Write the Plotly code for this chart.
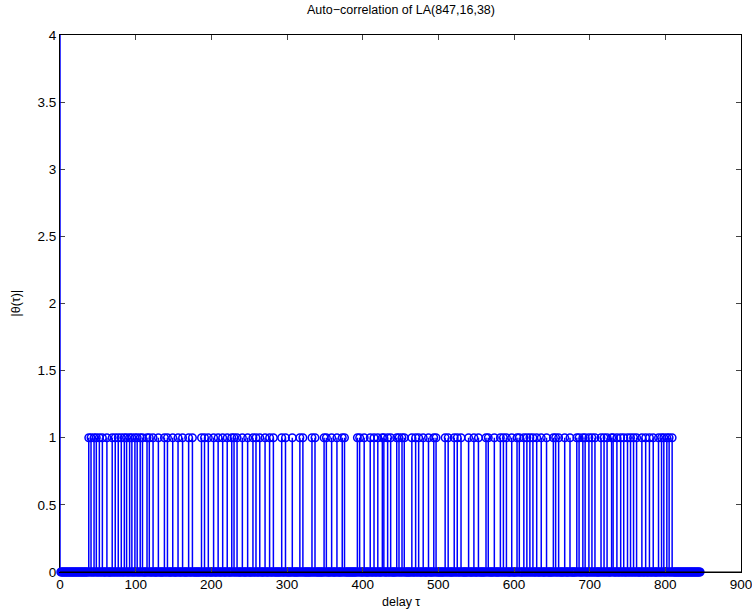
import plotly.graph_objects as go

# ---- data ----
n_delays = 847                      # delays 0 .. 846
peak_delay = 0
peak_value = 16                     # |theta(0)| (off the visible range)
unit_delays = [
    38, 41, 45, 48, 52, 56, 62, 69, 73, 77, 81, 85, 88, 92, 95, 99, 102, 106, 109,
    115, 118, 123, 130, 138, 142, 149, 156, 162, 170, 175, 187, 191, 196, 203, 209,
    215, 221, 227,
    230, 234, 241, 248, 255, 259, 264, 271, 277, 282, 293, 298, 307, 317, 321, 333,
    337, 349, 352, 359, 366, 373, 376, 393, 396, 402, 410, 415, 420, 426,
    428, 433, 437, 445, 448, 452, 455, 465, 470, 474, 480, 487, 494, 497, 509, 513,
    521, 525, 530, 540, 547, 553, 563, 566, 574, 582, 586, 590, 597, 604, 607, 613,
    617,
    621, 625, 630, 636, 643, 652, 655, 659, 667, 674, 683, 686, 691, 694, 699, 703,
    707, 715, 719, 723, 729, 731, 736, 741, 745, 750, 754, 758, 762, 769, 774, 779,
    784, 791, 795, 798, 802, 805, 809,
]
unit_value = 1
x_ticks = [0, 100, 200, 300, 400, 500, 600, 700, 800, 900]
y_ticks = [0, 0.5, 1, 1.5, 2, 2.5, 3, 3.5, 4]
y_tick_text = ["0", "0.5", "1", "1.5", "2", "2.5", "3", "3.5", "4"]

# build full series
tau = list(range(n_delays))
theta = [0] * n_delays
theta[peak_delay] = peak_value
for d in unit_delays:
    theta[d] = unit_value

BLUE = "rgb(0,0,255)"

# stems
sx, sy = [], []
for t, v in zip(tau, theta):
    if v != 0:
        sx += [t, t, None]
        sy += [0, v, None]

vis_x = [t for t, v in zip(tau, theta) if v <= 4]
vis_y = [v for v in theta if v <= 4]

fig = go.Figure()
fig.add_trace(go.Scatter(x=sx, y=sy, mode="lines",
                         line=dict(color=BLUE, width=1.5), hoverinfo="skip",
                         showlegend=False))
fig.add_trace(go.Scatter(x=vis_x, y=vis_y, mode="markers",
                         marker=dict(symbol="circle-open", size=7.5,
                                     color=BLUE, line=dict(width=1.5, color=BLUE)),
                         cliponaxis=False, showlegend=False))
# baseline
fig.add_trace(go.Scatter(x=[0, 900], y=[0, 0], mode="lines",
                         line=dict(color="black", width=1), hoverinfo="skip",
                         cliponaxis=False, showlegend=False))

font = dict(family="Liberation Sans, Arial, Helvetica, sans-serif", size=13.5, color="black")

fig.update_layout(
    width=752, height=610,
    margin=dict(l=60, r=11, t=35, b=38, autoexpand=False),
    paper_bgcolor="white", plot_bgcolor="white",
    font=font,
    showlegend=False,
    xaxis=dict(range=[0, 900], tickvals=x_ticks, ticks="inside", ticklen=5,
               showline=True, linecolor="black", linewidth=1, mirror="ticks",
               showgrid=False, zeroline=False, layer="above traces",
               automargin=False, ticklabeloverflow="allow", tickfont=font),
    yaxis=dict(range=[0, 4], tickvals=y_ticks, ticktext=y_tick_text,
               ticks="inside", ticklen=5,
               showline=True, linecolor="black", linewidth=1, mirror="ticks",
               showgrid=False, zeroline=False, layer="below traces",
               automargin=False, ticklabeloverflow="allow", tickfont=font),
    annotations=[
        dict(text="Auto\u2212correlation of LA(847,16,38)", x=0.5, y=1 + 25 / 537,
             xref="paper", yref="paper", showarrow=False, xanchor="center",
             yanchor="middle", font=dict(font, size=12.5)),
        dict(text="delay \u03c4", x=0.5, y=-30 / 537,
             xref="paper", yref="paper", showarrow=False, xanchor="center",
             yanchor="middle", font=dict(font, size=12.5)),
        dict(text="|\u03b8(\u03c4)|", x=-45 / 681, y=0.5, textangle=-90,
             xref="paper", yref="paper", showarrow=False, xanchor="center",
             yanchor="middle", font=dict(font, size=12.5)),
    ],
)

fig.write_html("out.html")
